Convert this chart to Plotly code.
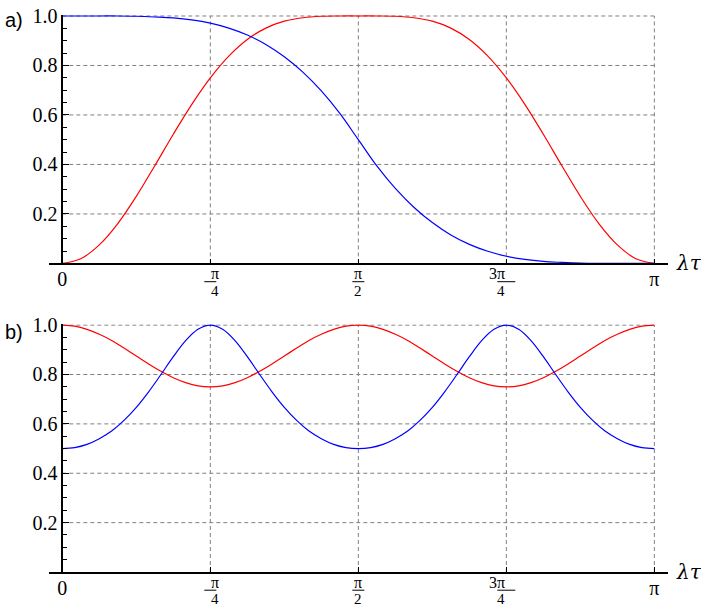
import numpy as np
import plotly.graph_objects as go
from plotly.subplots import make_subplots

# sample positions (lambda*tau) and curve values
tau_a = [k * np.pi / 32 for k in range(33)]
red_a = [0.0, 0.019, 0.075, 0.161, 0.271, 0.395, 0.522, 0.643, 0.75, 0.838, 0.905,
         0.951, 0.979, 0.993, 0.999, 1.0, 1.0, 1.0, 0.999, 0.993, 0.979, 0.951,
         0.905, 0.838, 0.75, 0.643, 0.522, 0.395, 0.271, 0.161, 0.075, 0.019, 0.0]
blue_a = [1.0, 1.0, 1.0, 1.0, 0.999, 0.996, 0.992, 0.984, 0.971, 0.951, 0.923,
          0.885, 0.835, 0.773, 0.697, 0.606, 0.5, 0.394, 0.303, 0.227, 0.165, 0.115,
          0.077, 0.049, 0.029, 0.016, 0.008, 0.004, 0.001, 0.0, 0.0, 0.0, 0.0]

tau_b = [k * np.pi / 48 for k in range(49)]
red_b = [1.0, 0.996, 0.983, 0.963, 0.938, 0.907, 0.875, 0.843, 0.813, 0.787, 0.767, 0.754, 0.75,
         0.754, 0.767, 0.787, 0.813, 0.843, 0.875, 0.907, 0.938, 0.963, 0.983, 0.996, 1.0,
         0.996, 0.983, 0.963, 0.938, 0.907, 0.875, 0.843, 0.813, 0.787, 0.767, 0.754, 0.75,
         0.754, 0.767, 0.787, 0.813, 0.843, 0.875, 0.907, 0.938, 0.963, 0.983, 0.996, 1.0]
blue_b = [0.5, 0.504, 0.517, 0.54, 0.571, 0.614, 0.667, 0.73, 0.8, 0.872, 0.937, 0.983, 1.0,
          0.983, 0.937, 0.872, 0.8, 0.73, 0.667, 0.614, 0.571, 0.54, 0.517, 0.504, 0.5,
          0.504, 0.517, 0.54, 0.571, 0.614, 0.667, 0.73, 0.8, 0.872, 0.937, 0.983, 1.0,
          0.983, 0.937, 0.872, 0.8, 0.73, 0.667, 0.614, 0.571, 0.54, 0.517, 0.504, 0.5]

x_ticks = [0, np.pi / 4, np.pi / 2, 3 * np.pi / 4, np.pi]
x_labels = ["0", "π/4", "π/2", "3π/4", "π"]
y_ticks = [0.2, 0.4, 0.6, 0.8, 1.0]
y_labels = ["0.2", "0.4", "0.6", "0.8", "1.0"]
panel_labels = ["a)", "b)"]

SERIF = "Liberation Serif"
GRID = "#808080"
X_RANGE = [-0.0706, 3.214]

W, H = 701, 606
M = dict(l=49, r=33, t=15, b=34)
plot_h = H - M["t"] - M["b"]


def ypaper(py):
    # pixel row -> paper y
    return 1 - (py - M["t"]) / plot_h


def xpaper(xv):
    return (xv - X_RANGE[0]) / (X_RANGE[1] - X_RANGE[0])


fig = make_subplots(rows=2, cols=1)

for row, (tau, red, blue) in enumerate([(tau_a, red_a, blue_a), (tau_b, red_b, blue_b)], start=1):
    xr = "x" if row == 1 else "x2"
    yr = "y" if row == 1 else "y2"
    off = 0 if row == 1 else 308.5
    # dashed grid, only inside 0..pi, 0..1
    for xv in x_ticks[1:]:
        fig.add_shape(type="line", xref=xr, yref=yr, x0=xv, x1=xv, y0=0, y1=1,
                      line=dict(color=GRID, width=1, dash="4px,3px"), layer="below")
    for yv in y_ticks:
        fig.add_shape(type="line", xref=xr, yref=yr, x0=0, x1=np.pi, y0=yv, y1=yv,
                      line=dict(color=GRID, width=1, dash="4px,3px"), layer="below")

    # fraction tick labels (pi/4, pi/2, 3pi/4) drawn as numerator, bar, denominator
    for xv, lab in zip(x_ticks, x_labels):
        if "/" not in lab:
            continue
        num, den = lab.split("/")
        half = 3 + 3 * len(num)
        fig.add_annotation(text=num, xref="paper", yref="paper", x=xpaper(xv), y=ypaper(273.8 + off),
                           yanchor="middle", showarrow=False, borderpad=0,
                           font=dict(family=SERIF, size=16, color="black"))
        fig.add_annotation(text=den, xref="paper", yref="paper", x=xpaper(xv), y=ypaper(290.5 + off),
                           yanchor="middle", showarrow=False, borderpad=0,
                           font=dict(family=SERIF, size=15, color="black"))
        fig.add_shape(type="line", xref="paper", yref="paper", xsizemode="pixel",
                      xanchor=xpaper(xv), x0=-half, x1=half,
                      y0=ypaper(281.7 + off), y1=ypaper(281.7 + off),
                      line=dict(color="black", width=1))

    fig.add_trace(go.Scatter(x=tau, y=red, mode="lines", line=dict(color="#ff0000", width=1.2, shape="spline"),
                             showlegend=False, hoverinfo="skip"), row=row, col=1)
    fig.add_trace(go.Scatter(x=tau, y=blue, mode="lines", line=dict(color="#0000ff", width=1.2, shape="spline"),
                             showlegend=False, hoverinfo="skip"), row=row, col=1)

fig.update_xaxes(range=X_RANGE, showgrid=False, zeroline=False, automargin=False,
                 showline=True, linecolor="black", linewidth=1.5,
                 tickmode="array", tickvals=x_ticks,
                 ticktext=[l if "/" not in l else "" for l in x_labels],
                 ticks="inside", ticklen=5, tickcolor="black", ticklabelstandoff=-3,
                 ticklabeloverflow="allow",
                 tickfont=dict(family=SERIF, size=20, color="black"))
fig.update_yaxes(range=[0, 1.004], showgrid=False, zeroline=False, automargin=False,
                 showline=True, linecolor="black", linewidth=1.5,
                 anchor="free", position=xpaper(0),
                 tickmode="array", tickvals=y_ticks, ticktext=y_labels,
                 ticks="inside", ticklen=6, tickcolor="black", ticklabeloverflow="allow",
                 minor=dict(tickmode="linear", tick0=0, dtick=0.05, ticks="inside", ticklen=4, tickcolor="black"),
                 tickfont=dict(family=SERIF, size=20, color="black"))
fig.update_layout(yaxis=dict(domain=[0.554, 1.0]), yaxis2=dict(domain=[0.0, 0.445]))

for i, (lab, py) in enumerate(zip(panel_labels, [20, 332.5])):
    fig.add_annotation(text=lab, xref="paper", x=-0.0743, xanchor="left", yref="paper", y=ypaper(py),
                       yanchor="middle", showarrow=False,
                       font=dict(family="Liberation Sans", size=20, color="black"))
    fig.add_annotation(text="<i>λτ</i>", xref="x" if i == 0 else "x2", x=X_RANGE[1], xanchor="left", xshift=6,
                       yref="y" if i == 0 else "y2", y=0, yanchor="middle",
                       showarrow=False, font=dict(family="DejaVu Serif", size=20, color="black"))

fig.update_layout(width=W, height=H, margin=M, plot_bgcolor="white", paper_bgcolor="white")

# drop the default 8px page margin so the figure fills the window
fig.write_html("out.html", config={"displayModeBar": False},
               post_script="document.body.style.margin='0px';")
